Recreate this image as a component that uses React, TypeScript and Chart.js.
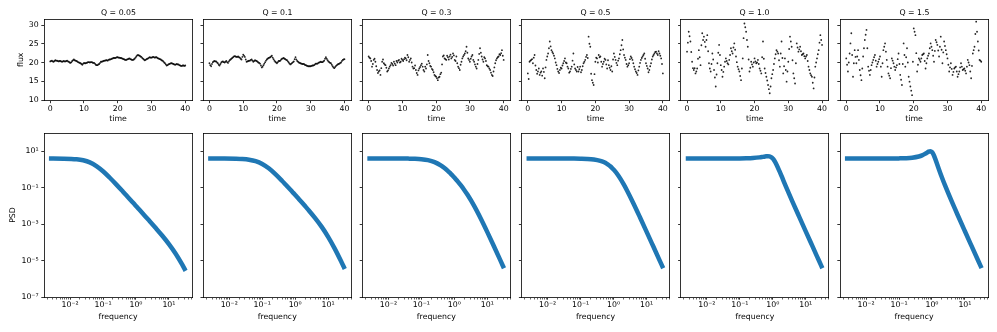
import { useEffect, useRef } from 'react';
import { Chart, registerables } from 'chart.js';

Chart.register(...registerables);

// ---------- data ----------
const Q_TITLES = ['Q = 0.05', 'Q = 0.1', 'Q = 0.3', 'Q = 0.5', 'Q = 1.0', 'Q = 1.5'];

const TIME = [
  0, 0.5, 1, 1.5, 2, 2.5, 3, 3.5, 4, 4.5, 5, 5.5, 6, 6.5, 7, 7.5, 8, 8.5, 9, 9.5,
  10, 10.5, 11, 11.5, 12, 12.5, 13, 13.5, 14, 14.5, 15, 15.5, 16, 16.5, 17, 17.5, 18, 18.5, 19, 19.5,
  20, 20.5, 21, 21.5, 22, 22.5, 23, 23.5, 24, 24.5, 25, 25.5, 26, 26.5, 27, 27.5, 28, 28.5, 29, 29.5,
  30, 30.5, 31, 31.5, 32, 32.5, 33, 33.5, 34, 34.5, 35, 35.5, 36, 36.5, 37, 37.5, 38, 38.5, 39, 39.5, 40,
];
const TIME_MID = [
  0.25, 0.75, 1.25, 1.75, 2.25, 2.75, 3.25, 3.75, 4.25, 4.75, 5.25, 5.75, 6.25, 6.75, 7.25, 7.75, 8.25, 8.75, 9.25, 9.75,
  10.25, 10.75, 11.25, 11.75, 12.25, 12.75, 13.25, 13.75, 14.25, 14.75, 15.25, 15.75, 16.25, 16.75, 17.25, 17.75, 18.25, 18.75, 19.25, 19.75,
  20.25, 20.75, 21.25, 21.75, 22.25, 22.75, 23.25, 23.75, 24.25, 24.75, 25.25, 25.75, 26.25, 26.75, 27.25, 27.75, 28.25, 28.75, 29.25, 29.75,
  30.25, 30.75, 31.25, 31.75, 32.25, 32.75, 33.25, 33.75, 34.25, 34.75, 35.25, 35.75, 36.25, 36.75, 37.25, 37.75, 38.25, 38.75, 39.25, 39.75,
];

const FLUX_Q005 = [
  20.3, 20.5, 20.2, 20.6, 20.5, 20.3, 20.4, 20.2, 20.4, 20.3,
  20.5, 20.2, 19.9, 20.4, 20.8, 20.5, 20.3, 20.0, 19.8, 19.4,
  19.9, 19.8, 20.0, 20.1, 20.1, 20.0, 19.9, 19.4, 19.3, 19.6,
  20.2, 20.3, 20.5, 20.6, 20.5, 20.8, 20.9, 21.1, 21.2, 21.3,
  21.4, 21.3, 21.2, 21.0, 20.8, 20.7, 20.9, 21.1, 20.8, 20.7,
  21.0, 21.6, 22.0, 21.8, 21.5, 21.0, 20.6, 20.9, 21.1, 21.4,
  21.3, 21.5, 21.3, 21.4, 21.1, 20.9, 20.6, 20.3, 19.8, 19.2,
  19.5, 19.7, 19.8, 19.6, 19.4, 19.6, 19.5, 19.2, 19.1, 19.2,
  19.2,
];
const FLUX_Q005_MID = [
  20.4, 20.3, 20.4, 20.5, 20.4, 20.4, 20.3, 20.3, 20.3, 20.4,
  20.3, 20.0, 20.1, 20.6, 20.6, 20.4, 20.1, 19.9, 19.6, 19.7,
  19.8, 19.9, 20.1, 20.0, 20.1, 19.9, 19.7, 19.3, 19.5, 19.9,
  20.2, 20.4, 20.5, 20.6, 20.7, 20.8, 21.0, 21.2, 21.2, 21.4,
  21.3, 21.2, 21.1, 20.9, 20.7, 20.8, 21.0, 20.9, 20.7, 20.8,
  21.3, 21.9, 21.9, 21.6, 21.2, 20.8, 20.7, 21.0, 21.3, 21.3,
  21.4, 21.4, 21.4, 21.2, 21.0, 20.8, 20.5, 20.0, 19.5, 19.3,
  19.6, 19.8, 19.7, 19.5, 19.5, 19.5, 19.3, 19.1, 19.2, 19.1,
];
const FLUX_Q01 = [
  19.8, 19.0, 20.1, 20.4, 20.3, 19.8, 19.2, 20.0, 20.3, 20.0,
  20.4, 19.9, 20.6, 21.0, 21.4, 21.7, 21.5, 21.6, 21.3, 20.8,
  22.1, 21.5, 20.2, 20.4, 20.5, 20.8, 20.2, 20.6, 20.4, 20.0,
  19.7, 18.7, 19.3, 20.1, 20.8, 21.2, 21.4, 21.8, 20.9, 20.2,
  19.8, 20.4, 20.5, 21.0, 21.2, 20.9, 20.6, 20.0, 19.5, 19.9,
  20.3, 21.4, 20.4, 20.0, 19.8, 19.6, 19.6, 19.3, 19.1, 19.0,
  19.0, 19.2, 19.3, 19.7, 19.7, 20.0, 20.2, 20.1, 20.5, 21.4,
  20.6, 20.1, 19.8, 19.0, 18.5, 19.1, 19.5, 19.7, 20.0, 20.7,
  20.9,
];
const FLUX_Q01_MID = [
  19.3, 19.6, 20.3, 20.3, 20.0, 19.4, 19.6, 20.2, 20.1, 20.2,
  20.1, 20.3, 20.8, 21.2, 21.6, 21.6, 21.5, 21.4, 21.0, 21.5,
  21.8, 20.8, 20.3, 20.5, 20.7, 20.5, 20.4, 20.5, 20.2, 19.9,
  19.2, 18.9, 19.7, 20.5, 21.0, 21.3, 21.6, 21.3, 20.5, 20.0,
  20.1, 20.4, 20.8, 21.1, 21.0, 20.7, 20.3, 19.7, 19.7, 20.1,
  20.9, 20.8, 20.2, 19.9, 19.7, 19.6, 19.4, 19.2, 19.0, 19.0,
  19.1, 19.2, 19.5, 19.7, 19.9, 20.1, 20.1, 20.3, 21.0, 21.0,
  20.3, 19.9, 19.4, 18.7, 18.8, 19.3, 19.6, 19.9, 20.4, 20.8,
];
const FLUX_Q03 = [
  21.6, 21.1, 18.9, 20.7, 20.2, 18.0, 17.6, 16.7, 20.2, 19.8,
  19.3, 17.6, 18.4, 19.3, 19.6, 20.2, 19.3, 20.0, 20.7, 20.2,
  20.7, 20.9, 21.1, 22.0, 20.2, 21.1, 18.9, 18.5, 18.0, 16.7,
  18.4, 19.3, 18.9, 17.6, 18.4, 22.0, 19.8, 18.9, 18.0, 16.7,
  16.2, 15.3, 16.2, 17.3, 21.6, 21.1, 20.7, 21.4, 21.6, 21.1,
  22.4, 20.7, 21.6, 18.9, 18.0, 20.2, 21.6, 22.4, 24.2, 21.1,
  20.2, 21.6, 20.7, 19.5, 18.4, 20.7, 23.8, 21.6, 20.2, 21.1,
  19.3, 18.9, 18.0, 16.7, 17.6, 19.8, 21.1, 21.6, 22.0, 23.3,
  20.7,
];
const FLUX_Q03_MID = [
  21.3, 20.4, 19.6, 21.0, 19.0, 17.2, 17.9, 18.5, 20.8, 19.5,
  18.6, 17.9, 18.9, 19.9, 19.2, 19.7, 20.4, 20.5, 20.0, 21.0,
  20.4, 21.3, 20.6, 21.4, 20.7, 20.0, 18.4, 19.2, 17.2, 17.9,
  18.8, 19.7, 18.0, 18.9, 19.5, 20.4, 19.1, 18.3, 17.4, 16.4,
  15.8, 16.0, 16.9, 19.5, 21.9, 20.9, 21.8, 20.8, 22.1, 21.5,
  21.9, 20.4, 19.8, 18.5, 19.4, 21.1, 22.0, 23.0, 22.6, 20.7,
  21.0, 22.0, 20.2, 18.9, 19.6, 22.3, 22.6, 20.8, 21.4, 20.4,
  19.0, 18.4, 17.3, 16.4, 18.7, 20.6, 21.4, 22.2, 22.5, 21.8,
];
const FLUX_Q05 = [
  17.1, 20.2, 20.7, 19.8, 22.0, 18.0, 17.6, 16.7, 17.6, 18.4,
  15.8, 20.7, 22.4, 25.6, 23.3, 22.4, 21.1, 19.3, 17.6, 18.0,
  18.4, 19.8, 21.1, 19.8, 18.4, 17.6, 18.9, 22.4, 18.4, 17.6,
  17.6, 18.9, 18.0, 19.8, 20.7, 22.0, 26.9, 24.2, 15.3, 14.0,
  20.2, 21.1, 22.0, 21.6, 18.9, 20.2, 20.7, 18.4, 19.3, 18.0,
  17.6, 22.4, 20.7, 19.3, 21.1, 23.3, 26.0, 22.0, 20.7, 18.9,
  19.8, 21.6, 20.7, 18.9, 17.6, 16.7, 18.9, 20.7, 21.6, 22.4,
  19.8, 18.4, 18.0, 19.8, 21.6, 22.4, 22.9, 22.0, 22.4, 21.1,
  17.1,
];
const FLUX_Q05_MID = [
  15.6, 20.5, 20.9, 21.3, 19.2, 17.0, 18.4, 17.3, 16.5, 17.5,
  18.7, 21.6, 23.8, 24.3, 22.8, 21.8, 20.0, 18.3, 17.2, 18.6,
  19.2, 20.4, 20.0, 18.9, 17.3, 18.3, 20.5, 19.5, 18.0, 18.8,
  18.2, 17.4, 19.0, 20.2, 21.5, 21.2, 25.0, 17.0, 14.6, 16.9,
  21.3, 20.0, 21.4, 20.2, 19.6, 21.0, 19.5, 20.6, 18.6, 19.0,
  20.8, 21.5, 19.9, 20.5, 22.2, 24.6, 23.5, 21.3, 19.6, 19.3,
  20.9, 21.2, 19.8, 18.2, 17.2, 17.9, 19.9, 21.2, 22.0, 21.0,
  19.1, 17.4, 19.0, 20.8, 22.0, 22.8, 22.4, 23.0, 21.8, 19.6,
];
const FLUX_Q10 = [
  22.9, 28.2, 25.6, 20.2, 18.0, 17.1, 18.4, 23.3, 19.3, 27.8,
  26.9, 24.2, 27.3, 19.8, 17.6, 22.4, 18.0, 13.6, 19.8, 24.7,
  19.3, 16.2, 18.9, 21.1, 19.8, 20.7, 23.8, 22.4, 25.1, 21.6,
  18.9, 17.6, 15.3, 21.1, 30.4, 28.2, 24.2, 17.6, 20.2, 18.9,
  21.1, 19.8, 20.7, 18.4, 17.1, 25.6, 18.4, 16.2, 14.0, 11.8,
  15.8, 18.0, 21.1, 23.3, 22.4, 18.9, 25.6, 17.1, 21.1, 14.9,
  20.2, 26.9, 24.2, 17.1, 14.4, 25.1, 22.9, 24.2, 22.0, 22.4,
  21.1, 22.0, 18.9, 17.1, 16.2, 13.1, 18.9, 21.1, 23.3, 27.3,
  24.7,
];
const FLUX_Q10_MID = [
  25.3, 27.0, 22.8, 18.5, 18.5, 17.6, 21.0, 21.4, 24.6, 26.0,
  25.5, 26.0, 23.0, 18.4, 19.6, 20.8, 16.0, 16.8, 22.6, 22.0,
  18.0, 17.5, 20.2, 20.4, 19.5, 22.0, 23.0, 24.0, 23.4, 20.1,
  18.2, 16.4, 18.4, 26.5, 29.4, 26.0, 20.8, 18.6, 19.5, 20.0,
  20.3, 20.0, 19.6, 17.8, 21.4, 21.0, 17.2, 15.2, 12.9, 13.6,
  16.9, 19.6, 22.2, 22.9, 20.6, 22.4, 21.2, 19.0, 18.0, 17.6,
  23.6, 25.6, 20.6, 15.8, 19.8, 24.0, 23.5, 23.0, 22.2, 21.7,
  21.6, 20.4, 18.0, 16.6, 14.6, 16.0, 20.0, 22.2, 25.3, 26.0,
];
const FLUX_Q15 = [
  21.1, 17.6, 22.4, 27.8, 16.2, 23.3, 19.8, 23.3, 18.0, 15.3,
  21.6, 26.0, 28.7, 18.9, 16.7, 19.3, 20.7, 22.0, 18.9, 20.2,
  21.6, 16.2, 23.3, 25.1, 20.7, 17.1, 15.8, 21.1, 19.8, 18.0,
  19.3, 22.4, 16.7, 14.0, 25.1, 18.9, 23.8, 16.2, 13.6, 11.3,
  29.1, 27.3, 17.6, 21.1, 20.2, 22.0, 22.4, 18.4, 21.1, 22.4,
  25.1, 23.3, 20.2, 26.0, 24.7, 21.6, 26.9, 19.8, 25.6, 23.3,
  21.1, 17.6, 19.8, 16.7, 18.4, 18.9, 16.2, 17.6, 19.8, 18.0,
  18.4, 17.1, 20.7, 19.3, 15.8, 22.4, 24.2, 30.9, 25.6, 20.7,
  20.2,
];
const FLUX_Q15_MID = [
  19.4, 20.0, 25.1, 22.0, 19.8, 21.5, 21.6, 20.7, 16.6, 18.4,
  23.8, 27.4, 23.8, 17.8, 18.0, 20.0, 21.4, 20.5, 19.6, 20.9,
  18.9, 19.8, 24.2, 22.9, 18.9, 16.5, 18.5, 20.5, 18.9, 18.7,
  20.9, 19.6, 15.4, 19.6, 22.0, 21.4, 20.0, 14.9, 12.5, 20.2,
  28.2, 22.5, 19.4, 20.7, 21.1, 22.2, 20.4, 19.8, 21.8, 23.8,
  24.2, 21.8, 23.1, 25.4, 23.2, 24.2, 23.4, 22.7, 24.4, 22.2,
  19.4, 18.7, 18.3, 17.5, 18.7, 17.6, 16.9, 18.7, 18.9, 18.2,
  17.8, 18.9, 20.0, 17.6, 19.1, 23.3, 27.6, 28.2, 23.2, 20.5,
];

const FREQ = [
  0.00229, 0.00631, 0.0158, 0.0251, 0.0398, 0.0631, 0.1, 0.158, 0.251, 0.398,
  0.501, 0.631, 0.708, 0.794, 0.891, 1.0, 1.122, 1.259, 1.585, 1.995,
  2.512, 3.981, 6.31, 10.0, 15.85, 25.12, 32.0,
];
// log10 of the PSD
const LOG_PSD_Q005 = [
  0.599, 0.593, 0.559, 0.503, 0.388, 0.188, -0.097, -0.441, -0.817, -1.207,
  -1.405, -1.603, -1.703, -1.802, -1.902, -2.002, -2.102, -2.202, -2.403, -2.605,
  -2.807, -3.217, -3.641, -4.097, -4.612, -5.212, -5.563,
];
const LOG_PSD_Q01 = [
  0.6, 0.598, 0.589, 0.574, 0.537, 0.457, 0.303, 0.061, -0.257, -0.619,
  -0.81, -1.004, -1.102, -1.201, -1.3, -1.4, -1.5, -1.601, -1.804, -2.01,
  -2.219, -2.657, -3.139, -3.697, -4.343, -5.063, -5.46,
];
const LOG_PSD_Q03 = [
  0.6, 0.6, 0.599, 0.598, 0.594, 0.585, 0.562, 0.51, 0.402, 0.208,
  0.075, -0.08, -0.165, -0.254, -0.348, -0.446, -0.548, -0.654, -0.88, -1.125,
  -1.393, -1.998, -2.69, -3.438, -4.216, -5.006, -5.424,
];
const LOG_PSD_Q05 = [
  0.6, 0.6, 0.6, 0.6, 0.599, 0.597, 0.591, 0.579, 0.547, 0.472,
  0.405, 0.309, 0.247, 0.175, 0.092, -0.002, -0.108, -0.225, -0.491, -0.795,
  -1.128, -1.853, -2.622, -3.409, -4.204, -5.001, -5.421,
];
const LOG_PSD_Q10 = [
  0.6, 0.6, 0.6, 0.6, 0.601, 0.602, 0.604, 0.611, 0.627, 0.662,
  0.69, 0.719, 0.725, 0.715, 0.677, 0.6, 0.477, 0.315, -0.081, -0.51,
  -0.938, -1.774, -2.589, -3.396, -4.198, -4.999, -5.42,
];
const LOG_PSD_Q15 = [
  0.6, 0.6, 0.6, 0.6, 0.601, 0.603, 0.607, 0.617, 0.643, 0.709,
  0.772, 0.868, 0.927, 0.98, 1.003, 0.952, 0.803, 0.58, 0.068, -0.428,
  -0.891, -1.757, -2.583, -3.393, -4.197, -4.999, -5.419,
];

const FLUX_SERIES = [FLUX_Q005, FLUX_Q01, FLUX_Q03, FLUX_Q05, FLUX_Q10, FLUX_Q15];
const FLUX_MID_SERIES = [FLUX_Q005_MID, FLUX_Q01_MID, FLUX_Q03_MID, FLUX_Q05_MID, FLUX_Q10_MID, FLUX_Q15_MID];
const PSD_SERIES = [LOG_PSD_Q005, LOG_PSD_Q01, LOG_PSD_Q03, LOG_PSD_Q05, LOG_PSD_Q10, LOG_PSD_Q15];

const TIME_TICKS = [0, 10, 20, 30, 40];
const FLUX_TICKS = [10, 15, 20, 25, 30];
const PSD_TICKS = [1e-7, 1e-5, 1e-3, 1e-1, 1e1];
const PSD_TICK_LABELS = ['10⁻⁷', '10⁻⁵', '10⁻³', '10⁻¹', '10¹'];
const FREQ_MAJOR = [0.01, 0.1, 1, 10];
const FREQ_MAJOR_LABELS = ['10⁻²', '10⁻¹', '10⁰', '10¹'];

// ---------- layout / style ----------
const PANEL_LEFT = [44, 203.2, 362.4, 521.6, 680.8, 840];
const PANEL_W = 148;
const SIDE = 44;
const CANVAS_W = PANEL_W + 2 * SIDE + 1;
const FONT = { family: 'DejaVu Sans', size: 7.8, lineHeight: 1.2, weight: 'normal' as const };
const TEXT = '#000';
const SPINE = 'rgba(0,0,0,0.8)';

function freqTickValues(min: number, max: number) {
  const out: number[] = [];
  for (let e = -3; e <= 2; e++) {
    for (let m = 1; m <= 9; m++) {
      const v = parseFloat((m * Math.pow(10, e)).toPrecision(6));
      if (v >= min && v <= max) out.push(v);
    }
  }
  return out;
}

function isMajorFreq(v: number) {
  return FREQ_MAJOR.some((m) => Math.abs(m - v) / m < 1e-6);
}

function frameAxis(position: 'top' | 'right', size: number) {
  return {
    type: 'linear',
    position,
    min: 0,
    max: 1,
    display: true,
    grid: { display: false, drawTicks: false },
    ticks: { display: false },
    border: { display: true, color: SPINE, width: 1 },
    afterFit: (s: any) => {
      if (position === 'top') s.height = size;
      else s.width = size;
    },
  };
}

function tickGrid(extra: any = {}) {
  return {
    display: true,
    drawOnChartArea: false,
    drawTicks: true,
    tickLength: 2.7,
    tickColor: '#000',
    tickWidth: 0.8,
    ...extra,
  };
}

function buildTop(i: number, yW: number, y2W: number) {
  const first = i === 0;
  const pts = TIME.map((t, j) => ({ x: t, y: FLUX_SERIES[i][j] })).concat(
    TIME_MID.map((t, j) => ({ x: t, y: FLUX_MID_SERIES[i][j] }))
  );
  return {
    type: 'scatter',
    data: {
      datasets: [
        {
          data: pts,
          pointRadius: 0.9,
          pointBorderWidth: 0,
          pointBackgroundColor: 'rgba(0,0,0,0.85)',
          showLine: false,
        },
      ],
    },
    options: {
      animation: false,
      responsive: false,
      devicePixelRatio: 1,
      events: [],
      layout: { padding: 0 },
      plugins: {
        legend: { display: false },
        tooltip: { enabled: false },
        title: {
          display: true,
          text: Q_TITLES[i],
          color: TEXT,
          font: FONT,
          padding: { top: 7.8, bottom: 1.84 },
        },
      },
      scales: {
        x: {
          type: 'linear',
          position: 'bottom',
          min: -1.85,
          max: 42.0,
          grid: tickGrid(),
          border: { display: true, color: SPINE, width: 1 },
          afterBuildTicks: (s: any) => {
            s.ticks = TIME_TICKS.map((v) => ({ value: v }));
          },
          ticks: {
            autoSkip: false,
            maxRotation: 0,
            minRotation: 0,
            padding: 1.3,
            color: TEXT,
            font: FONT,
            callback: (v: any) => String(v),
          },
          title: {
            display: true,
            text: 'time',
            color: TEXT,
            font: FONT,
            padding: { top: 0, bottom: 1.0 },
          },
          afterFit: (s: any) => {
            s.height = 24.5;
          },
        },
        y: {
          type: 'linear',
          position: 'left',
          min: 9.87,
          max: 31.6,
          grid: tickGrid(),
          border: { display: true, color: SPINE, width: 1 },
          afterBuildTicks: (s: any) => {
            s.ticks = FLUX_TICKS.map((v) => ({ value: v }));
          },
          ticks: {
            display: first,
            autoSkip: false,
            padding: 2.7,
            color: TEXT,
            font: FONT,
            callback: (v: any) => String(v),
          },
          title: {
            display: first,
            text: 'flux',
            color: TEXT,
            font: FONT,
            padding: { top: 16.6, bottom: 0 },
          },
          afterFit: (s: any) => {
            s.width = yW;
          },
        },
        x2: frameAxis('top', 0),
        y2: frameAxis('right', y2W),
      },
    },
  };
}

function buildBottom(i: number, yW: number, y2W: number) {
  const first = i === 0;
  const fMin = Math.pow(10, -2.79);
  const fMax = Math.pow(10, 1.7);
  return {
    type: 'line',
    data: {
      datasets: [
        {
          data: FREQ.map((f, j) => ({ x: f, y: Math.pow(10, PSD_SERIES[i][j]) })),
          borderColor: '#1f77b4',
          borderWidth: 4.5,
          pointRadius: 0,
          fill: false,
          cubicInterpolationMode: 'monotone',
          borderCapStyle: 'butt',
          borderJoinStyle: 'round',
        },
      ],
    },
    options: {
      animation: false,
      responsive: false,
      devicePixelRatio: 1,
      events: [],
      layout: { padding: { top: 8, left: 0, right: 0, bottom: 0 } },
      plugins: {
        legend: { display: false },
        tooltip: { enabled: false },
        title: { display: false },
      },
      scales: {
        x: {
          type: 'logarithmic',
          position: 'bottom',
          min: fMin,
          max: fMax,
          grid: tickGrid({
            tickWidth: (c: any) => (c.tick && isMajorFreq(c.tick.value) ? 0.8 : 0.6),
            tickBorderDash: (c: any) => (c.tick && isMajorFreq(c.tick.value) ? [] : [1.5, 10]),
          }),
          border: { display: true, color: SPINE, width: 1 },
          afterBuildTicks: (s: any) => {
            s.ticks = freqTickValues(fMin, fMax).map((v) => ({ value: v, major: isMajorFreq(v) }));
          },
          ticks: {
            autoSkip: false,
            maxRotation: 0,
            minRotation: 0,
            padding: 0.7,
            color: TEXT,
            font: FONT,
            callback: (v: any) => {
              const k = FREQ_MAJOR.findIndex((m) => Math.abs(m - v) / m < 1e-6);
              return k >= 0 ? FREQ_MAJOR_LABELS[k] : '';
            },
          },
          title: {
            display: true,
            text: 'frequency',
            color: TEXT,
            font: FONT,
            padding: { top: 0, bottom: 10.8 },
          },
          afterFit: (s: any) => {
            s.height = 35;
          },
        },
        y: {
          type: 'logarithmic',
          position: 'left',
          min: 1e-7,
          max: 1e2,
          grid: tickGrid(),
          border: { display: true, color: SPINE, width: 1 },
          afterBuildTicks: (s: any) => {
            s.ticks = PSD_TICKS.map((v) => ({ value: v, major: true }));
          },
          ticks: {
            display: first,
            autoSkip: false,
            padding: 2.7,
            color: TEXT,
            font: FONT,
            callback: (v: any) => {
              const k = PSD_TICKS.indexOf(v);
              return k >= 0 ? PSD_TICK_LABELS[k] : '';
            },
          },
          title: {
            display: first,
            text: 'PSD',
            color: TEXT,
            font: FONT,
            padding: { top: 8.6, bottom: 0 },
          },
          afterFit: (s: any) => {
            s.width = yW;
          },
        },
        x2: frameAxis('top', 0),
        y2: frameAxis('right', y2W),
      },
    },
  };
}

function Panel({ row, index }: { row: 'top' | 'bottom'; index: number }) {
  const ref = useRef<HTMLCanvasElement>(null);
  const pl = PANEL_LEFT[index];
  const left = Math.floor(pl) - SIDE;
  const yW = SIDE + (pl - Math.floor(pl));
  const y2W = CANVAS_W - yW - PANEL_W;
  const top = row === 'top' ? 0 : 125;
  const height = row === 'top' ? 125 : 207;

  useEffect(() => {
    if (!ref.current) return;
    const cfg: any = row === 'top' ? buildTop(index, yW, y2W) : buildBottom(index, yW, y2W);
    const chart = new Chart(ref.current, cfg);
    return () => chart.destroy();
  }, [row, index]);

  return (
    <canvas
      ref={ref}
      width={CANVAS_W}
      height={height}
      style={{ position: 'absolute', left, top, width: CANVAS_W, height, display: 'block' }}
    />
  );
}

export default function App() {
  const idx = [0, 1, 2, 3, 4, 5];
  return (
    <div
      style={{
        position: 'absolute',
        left: 0,
        top: 0,
        width: 997,
        height: 332,
        overflow: 'hidden',
        background: '#fff',
      }}
    >
      {idx.map((i) => (
        <Panel key={'t' + i} row="top" index={i} />
      ))}
      {idx.map((i) => (
        <Panel key={'b' + i} row="bottom" index={i} />
      ))}
    </div>
  );
}
